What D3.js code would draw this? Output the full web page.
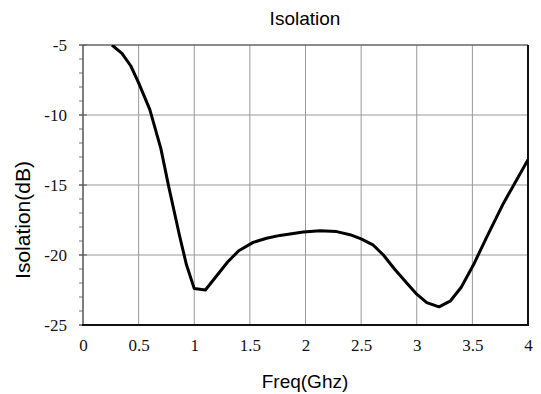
<html>
<head>
<meta charset="utf-8">
<script src="https://d3js.org/d3.v7.min.js"></script>
<style>
  body { margin: 0; background: #fff; }
  .tick text { font-family: "Liberation Serif", "Times New Roman", serif; font-size: 17px; fill: #111; }
  .lbl { font-family: "Liberation Sans", Arial, sans-serif; fill: #000; }
</style>
</head>
<body>
<svg width="541" height="394"></svg>
<script>
// isolation curve, frequency in GHz vs dB
var freq = [0.26, 0.35, 0.43, 0.5, 0.6, 0.7, 0.77, 0.87, 0.93, 1.0, 1.1, 1.2, 1.3, 1.4, 1.53, 1.65, 1.77, 1.98, 2.13, 2.28, 2.4, 2.5, 2.61, 2.7, 2.8, 2.91, 3.0, 3.09, 3.2, 3.3, 3.4, 3.51, 3.63, 3.78, 3.9, 4.0];
var iso  = [-5.0, -5.6, -6.5, -7.7, -9.6, -12.4, -15.1, -18.7, -20.7, -22.4, -22.5, -21.5, -20.5, -19.7, -19.1, -18.8, -18.6, -18.35, -18.26, -18.33, -18.55, -18.85, -19.3, -20.0, -21.0, -22.0, -22.8, -23.4, -23.7, -23.3, -22.3, -20.7, -18.7, -16.3, -14.6, -13.2];
var xTicks = [0, 0.5, 1, 1.5, 2, 2.5, 3, 3.5, 4];
var yTicks = [-25, -20, -15, -10, -5];
var yMinor = d3.range(-25, -4, 1);

var pL = 83, pT = 45, pR = 528, pB = 325;
var svg = d3.select("svg");

var x = d3.scaleLinear().domain([0, 4]).range([pL, pR]);
var y = d3.scaleLinear().domain([-25, -5]).range([pB, pT]);

// grid
svg.append("g").selectAll("line").data(xTicks.slice(1, -1)).enter().append("line")
  .attr("x1", d => x(d)).attr("x2", d => x(d)).attr("y1", pT).attr("y2", pB)
  .attr("stroke", "#999").attr("stroke-width", 1);
svg.append("g").selectAll("line").data(yTicks.slice(1, -1)).enter().append("line")
  .attr("x1", pL).attr("x2", pR).attr("y1", d => y(d)).attr("y2", d => y(d))
  .attr("stroke", "#999").attr("stroke-width", 1);

// minor ticks on the y axis
svg.append("g").selectAll("line").data(yMinor).enter().append("line")
  .attr("x1", pL - 4).attr("x2", pL).attr("y1", d => y(d)).attr("y2", d => y(d))
  .attr("stroke", "#777");
svg.append("g").selectAll("line").data(yTicks).enter().append("line")
  .attr("x1", pL - 4).attr("x2", pL + 4).attr("y1", d => y(d)).attr("y2", d => y(d))
  .attr("stroke", "#555");

// frame
svg.append("line").attr("x1", pL).attr("x2", pR).attr("y1", pT).attr("y2", pT).attr("stroke", "#666").attr("stroke-width", 1.5);
svg.append("line").attr("x1", pR).attr("x2", pR).attr("y1", pT).attr("y2", pB).attr("stroke", "#111").attr("stroke-width", 2);
svg.append("line").attr("x1", pL).attr("x2", pL).attr("y1", pT).attr("y2", pB).attr("stroke", "#555").attr("stroke-width", 1.5);
svg.append("line").attr("x1", pL - 1).attr("x2", pR + 1).attr("y1", pB).attr("y2", pB).attr("stroke", "#111").attr("stroke-width", 2);

// axes (labels only)
var xa = svg.append("g").attr("transform", "translate(0," + pB + ")")
  .call(d3.axisBottom(x).tickValues(xTicks).tickSize(0).tickPadding(14).tickFormat(d => String(d)));
xa.select(".domain").remove();
var ya = svg.append("g").attr("transform", "translate(" + pL + ",0)")
  .call(d3.axisLeft(y).tickValues(yTicks).tickSize(0).tickPadding(16).tickFormat(d => String(d)));
ya.select(".domain").remove();

// curve
svg.append("defs").append("clipPath").attr("id", "plot").append("rect")
  .attr("x", pL).attr("y", pT).attr("width", pR - pL).attr("height", pB - pT);
var pts = freq.map((f, i) => [f, iso[i]]);
svg.append("path").datum(pts)
  .attr("clip-path", "url(#plot)")
  .attr("d", d3.line().x(d => x(d[0])).y(d => y(d[1])))
  .attr("fill", "none").attr("stroke", "#000").attr("stroke-width", 3).attr("stroke-linejoin", "round");

// labels
svg.append("text").attr("class", "lbl").attr("x", 305).attr("y", 25)
  .attr("text-anchor", "middle").style("font-size", "19px").text("Isolation");
svg.append("text").attr("class", "lbl").attr("x", 305).attr("y", 388)
  .attr("text-anchor", "middle").style("font-size", "19px").text("Freq(Ghz)");
svg.append("text").attr("class", "lbl")
  .attr("transform", "translate(30,220) rotate(-90)")
  .attr("text-anchor", "middle").style("font-size", "21px").text("Isolation(dB)");
</script>
</body>
</html>
